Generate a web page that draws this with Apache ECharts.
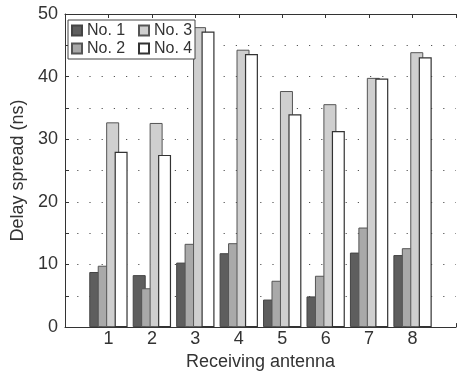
<!DOCTYPE html>
<html>
<head>
<meta charset="utf-8">
<script src="https://cdn.jsdelivr.net/npm/echarts@6/dist/echarts.min.js"></script>
<style>
  html, body { margin: 0; padding: 0; background: #fff; }
  #chart { width: 459px; height: 376px; }
</style>
</head>
<body>
<div id="chart"></div>
<script>
// receiving antenna index
const categories = ['1', '2', '3', '4', '5', '6', '7', '8'];
// delay spread (ns) per transmitter
const no1 = [8.8, 8.3, 10.3, 11.8, 4.4, 4.9, 11.9, 11.5];
const no2 = [9.8, 6.2, 13.3, 13.4, 7.4, 8.2, 15.9, 12.6];
const no3 = [32.7, 32.6, 47.9, 44.3, 37.7, 35.6, 39.8, 43.9];
const no4 = [28.0, 27.5, 47.2, 43.6, 34.0, 31.3, 39.7, 43.1];
const yTicks = [0, 10, 20, 30, 40, 50];

const font = "'Liberation Sans', Arial, Helvetica, sans-serif";
const ink = '#333';

const toPoints = (vals) => vals.map((v, i) => [i + 1, v]);

const chartDom = document.getElementById('chart');
const myChart = echarts.init(chartDom);

const barBase = {
  type: 'bar',
  barWidth: 13,
  barGap: '-35%',
  animation: false
};

const option = {
  animation: false,
  textStyle: { fontFamily: font, color: ink },
  grid: {
    left: 65,
    right: -15,
    top: 14,
    bottom: 39
  },
  legend: {
    left: 68,
    top: 20,
    width: 140,
    z: 10,
    orient: 'horizontal',
    backgroundColor: '#fff',
    padding: [2.5, 2, 2.5, 3],
    itemGap: 2,
    itemWidth: 10,
    itemHeight: 10,
    itemTextGap: 3,
    borderColor: '#444',
    borderWidth: 1,
    icon: 'rect',
    textStyle: { fontSize: 16, lineHeight: 16, color: ink, fontFamily: font },
    data: [
      { name: 'No. 1', textStyle: { width: 49 } },
      { name: 'No. 3', textStyle: { width: 39 } },
      { name: 'No. 2', textStyle: { width: 49 } },
      { name: 'No. 4', textStyle: { width: 39 } }
    ]
  },
  xAxis: [
    {
      type: 'value',
      min: 0,
      max: 9,
      interval: 1,
      name: 'Receiving antenna',
      nameLocation: 'middle',
      nameGap: 17,
      nameTextStyle: { fontSize: 18, color: ink },
      axisLine: { lineStyle: { color: ink, width: 1 } },
      axisTick: { inside: true, length: 4, lineStyle: { color: ink } },
      axisLabel: {
        margin: 3,
        fontSize: 18,
        color: ink,
        formatter: (v) => (v >= 1 && v <= categories.length ? categories[v - 1] : '')
      },
      splitLine: { show: false }
    },
    {
      type: 'value',
      position: 'top',
      min: 0,
      max: 9,
      interval: 1,
      axisLine: { show: true, lineStyle: { color: ink, width: 1 } },
      axisTick: { inside: true, length: 4, lineStyle: { color: ink } },
      axisLabel: { show: false },
      splitLine: { show: false }
    }
  ],
  yAxis: {
    type: 'value',
    min: 0,
    max: 50,
    interval: 5,
    name: 'Delay spread (ns)',
    nameLocation: 'middle',
    nameGap: 33,
    nameTextStyle: { fontSize: 18, color: ink },
    axisLine: { show: true, lineStyle: { color: ink, width: 1 } },
    axisTick: { show: true, inside: true, length: 4, lineStyle: { color: ink } },
    axisLabel: {
      margin: 7,
      fontSize: 18,
      color: ink,
      formatter: (v) => (yTicks.indexOf(v) >= 0 ? String(v) : '')
    },
    splitLine: {
      show: true,
      lineStyle: { color: '#555', width: 1.2, type: [1.2, 11] }
    }
  },
  series: [
    Object.assign({}, barBase, {
      name: 'No. 1',
      data: toPoints(no1),
      itemStyle: { color: '#5e5e5e', borderColor: '#444', borderWidth: 1 }
    }),
    Object.assign({}, barBase, {
      name: 'No. 2',
      data: toPoints(no2),
      itemStyle: { color: '#a9a9a9', borderColor: '#555', borderWidth: 1 }
    }),
    Object.assign({}, barBase, {
      name: 'No. 3',
      data: toPoints(no3),
      itemStyle: { color: '#cfcfcf', borderColor: '#555', borderWidth: 1 }
    }),
    Object.assign({}, barBase, {
      name: 'No. 4',
      data: toPoints(no4),
      itemStyle: { color: '#ffffff', borderColor: '#333', borderWidth: 1.2 }
    })
  ]
};

myChart.setOption(option);
</script>
</body>
</html>
